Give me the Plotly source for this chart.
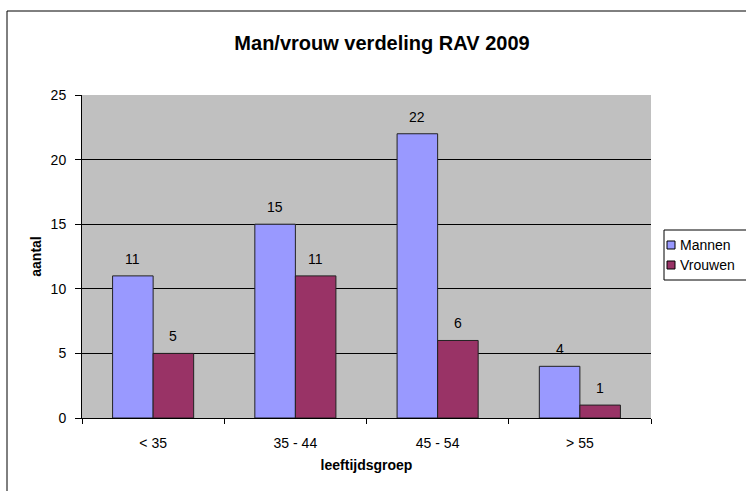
import plotly.graph_objects as go

groups = ["< 35", "35 - 44", "45 - 54", "> 55"]
mannen = [11, 15, 22, 4]
vrouwen = [5, 11, 6, 1]
y_ticks = [0, 5, 10, 15, 20, 25]
series_names = ["Mannen", "Vrouwen"]
series_colors = ["#9999FF", "#993366"]

FONT = "Arial, Liberation Sans, sans-serif"
W, H = 746, 491
ML, MR, MT, MB = 82, 95, 95, 73
PW, PH = W - ML - MR, H - MT - MB
BARGAP = 0.43


def px_x(px):
    # pixel column -> paper x
    return (px - ML) / PW


def px_y(py):
    # pixel row -> paper y
    return (H - MB - py) / PH


fig = go.Figure()
for name, color, vals in zip(series_names, series_colors, [mannen, vrouwen]):
    fig.add_trace(
        go.Bar(
            x=groups,
            y=vals,
            name=name,
            marker=dict(color=color, line=dict(color="#222222", width=1)),
            showlegend=False,
        )
    )

# value labels above the bars
bar_w = PW / len(groups) * (1 - BARGAP) / 2
annotations = []
for shift, vals in zip([-bar_w / 2, bar_w / 2], [mannen, vrouwen]):
    for g, v in zip(groups, vals):
        annotations.append(
            dict(
                x=g, y=v, xref="x", yref="y", text=str(v), showarrow=False,
                xshift=shift, yshift=17, yanchor="middle",
                font=dict(size=14, color="black"),
            )
        )

# outer chart border + legend box (drawn by hand for the compact Excel look)
shapes = [
    dict(
        type="rect", xref="paper", yref="paper",
        x0=px_x(7), x1=px_x(760), y0=px_y(520), y1=px_y(11),
        line=dict(color="black", width=1), fillcolor="rgba(0,0,0,0)",
        layer="below",
    ),
    dict(
        type="rect", xref="paper", yref="paper",
        x0=px_x(664), x1=px_x(760), y0=px_y(280), y1=px_y(230),
        line=dict(color="black", width=1), fillcolor="white",
    ),
]
for i, (name, color) in enumerate(zip(series_names, series_colors)):
    cy = 245 + i * 20
    shapes.append(
        dict(
            type="rect", xref="paper", yref="paper",
            x0=px_x(667), x1=px_x(675), y0=px_y(cy + 4), y1=px_y(cy - 4),
            line=dict(color="black", width=1), fillcolor=color,
        )
    )
    annotations.append(
        dict(
            x=px_x(678), y=px_y(cy), xref="paper", yref="paper",
            text=name, showarrow=False, xanchor="left", yanchor="middle",
            font=dict(size=14, color="black"),
        )
    )

fig.update_layout(
    width=W,
    height=H,
    margin=dict(l=ML, r=MR, t=MT, b=MB, autoexpand=False),
    paper_bgcolor="white",
    plot_bgcolor="#C0C0C0",
    font=dict(family=FONT, size=14, color="black"),
    barmode="group",
    bargap=BARGAP,
    bargroupgap=0.0,
    title=dict(
        text="<b>Man/vrouw verdeling RAV 2009</b>",
        x=382 / W,
        xref="container",
        xanchor="center",
        y=1 - 43 / H,
        yref="container",
        yanchor="middle",
        font=dict(size=20, family=FONT),
    ),
    showlegend=False,
    shapes=shapes,
    annotations=annotations,
)

fig.update_xaxes(
    showline=True,
    linecolor="black",
    linewidth=1,
    ticks="outside",
    ticklen=5,
    tickcolor="black",
    tickson="boundaries",
    ticklabelstandoff=12,
    showgrid=False,
    title=dict(text="<b>leeftijdsgroep</b>", standoff=10, font=dict(size=14)),
    tickfont=dict(size=14),
)
fig.update_yaxes(
    range=[0, 25],
    tickvals=y_ticks,
    showline=True,
    linecolor="black",
    linewidth=1,
    ticks="outside",
    ticklen=6,
    tickcolor="black",
    ticklabelstandoff=6,
    showgrid=True,
    gridcolor="black",
    gridwidth=1,
    zeroline=False,
    title=dict(text="<b>aantal</b>", standoff=5, font=dict(size=14)),
    tickfont=dict(size=14),
)

fig.write_html(
    "out.html",
    config={"displayModeBar": False},
    post_script="document.body.style.margin='0';document.body.style.overflow='hidden';",
)
